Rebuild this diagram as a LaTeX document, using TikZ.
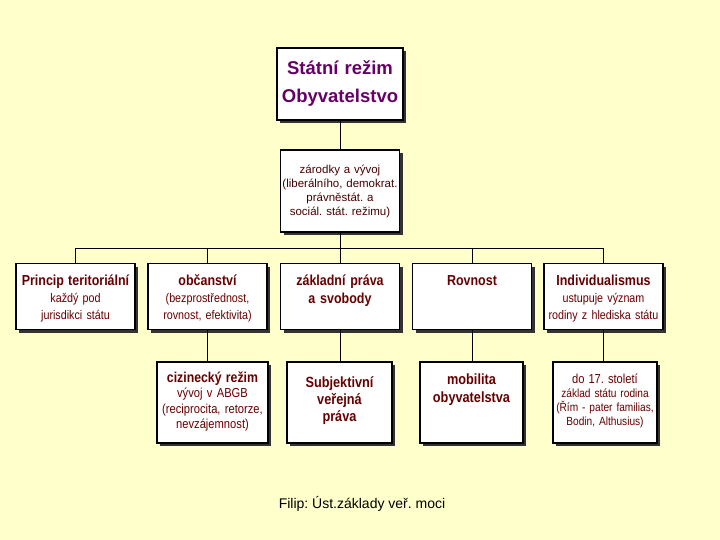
\documentclass[tikz,border=0pt]{standalone}
\usepackage{fontspec}
\setmainfont{Liberation Sans}
\newfontfamily\narrowfont{Liberation Sans}[FakeStretch=0.86]
\usetikzlibrary{shadows}
\definecolor{bgyellow}{RGB}{255,255,204}
\definecolor{titlepurple}{RGB}{102,0,102}
\definecolor{textred}{RGB}{102,0,0}
\definecolor{subred}{RGB}{70,0,0}
\newcommand{\head}[1]{{\bfseries\fontsize{14.5}{17}\selectfont #1}}
\frenchspacing

\begin{document}
\begin{tikzpicture}[x=1pt, y=-1pt,
    cell/.style={draw, line width=1.2pt, fill=white, inner sep=0pt,
      drop shadow={shadow xshift=3pt, shadow yshift=-3pt, fill=black!80, opacity=1}},
    row2 cell/.style={cell, minimum width=119pt, minimum height=66pt},
    celltext/.style={anchor=base, inner sep=0pt, align=center, text width=#1,
      text=textred, font=\narrowfont\fontsize{12.5}{17}\selectfont},
    celltext/.default=150pt,
    link/.style={line width=0.9pt}]

    \fill[bgyellow] (0,0) rectangle (720,540);
    \useasboundingbox (0,0) rectangle (720,540);

    % top
    \node[cell, minimum width=126pt, minimum height=72pt] (stat) at (340,84) {};
    \node[celltext, text=titlepurple, font=\bfseries\fontsize{18.5}{28}\selectfont] (stat t) at ([yshift=-27pt]stat.north) {Státní režim\\Obyvatelstvo};

    \node[cell, minimum width=119pt, minimum height=82pt] (zar) at (340,191) {};
    \node[celltext, text=subred, font=\fontsize{11.5}{14}\selectfont] (zar t) at ([yshift=-24pt]zar.north) {zárodky a vývoj\\(liberálního, demokrat.\\právněstát. a\\sociál. stát. režimu)};

    % second row
    \node[row2 cell] (prin) at (75.5,296.5) {};
    \node[row2 cell] (obc) at (207.5,296.5) {};
    \node[row2 cell] (zakl) at (340,296.5) {};
    \node[row2 cell] (rov) at (472,296.5) {};
    \node[row2 cell] (indiv) at (603.5,296.5) {};

    \node[celltext] (prin t) at ([yshift=-23pt]prin.north) {\head{Princip teritoriální}\\každý pod\\jurisdikci státu};
    \node[celltext] (obc t) at ([yshift=-23pt]obc.north) {\head{občanství}\\(bezprostřednost,\\rovnost, efektivita)};
    \node[celltext, font=\narrowfont\bfseries\fontsize{14.5}{18}\selectfont] (zakl t) at ([yshift=-23pt]zakl.north) {základní práva\\a svobody};
    \node[celltext] (rov t) at ([yshift=-23pt]rov.north) {\head{Rovnost}};
    \node[celltext] (indiv t) at ([yshift=-23pt]indiv.north) {\head{Individualismus}\\ustupuje význam\\rodiny z hlediska státu};

    % third row
    \node[cell, minimum width=111pt, minimum height=81pt] (ciz) at (212.5,402.5) {};
    \node[cell, minimum width=105pt, minimum height=81pt] (subj) at (339.5,402.5) {};
    \node[cell, minimum width=103pt, minimum height=81pt] (mob) at (471.5,402.5) {};
    \node[cell, minimum width=104pt, minimum height=81pt] (stol) at (605,402.5) {};

    \node[celltext, font=\narrowfont\fontsize{13}{15.5}\selectfont] (ciz t) at ([yshift=-21pt]ciz.north) {{\bfseries\fontsize{14.3}{15.5}\selectfont cizinecký režim}\\vývoj v ABGB\\(reciprocita, retorze,\\nevzájemnost)};
    \node[celltext, font=\narrowfont\bfseries\fontsize{14.8}{17}\selectfont] (subj t) at ([yshift=-26pt]subj.north) {Subjektivní\\veřejná\\práva};
    \node[celltext, font=\narrowfont\bfseries\fontsize{14.8}{18}\selectfont] (mob t) at ([yshift=-23pt]mob.north) {mobilita\\obyvatelstva};
    \node[celltext, font=\narrowfont\fontsize{11.8}{14}\selectfont] (stol t) at ([yshift=-22pt]stol.north) {{\fontsize{13}{14}\selectfont do 17. století}\\základ státu rodina\\(Řím - pater familias,\\Bodin, Althusius)};

    \node[font=\fontsize{14}{16}\selectfont] (foot) at (362,504) {Filip: Úst.základy veř. moci};

    % connectors
    \coordinate (bus) at (340,248);
    \draw[link] (stat) -- (zar);
    \draw[link] (zar) -- (bus);
    \draw[link] (bus -| prin) -- (bus -| indiv);
    \draw[link] (bus -| prin) -- (prin);
    \draw[link] (bus -| obc) -- (obc);
    \draw[link] (bus -| zakl) -- (zakl);
    \draw[link] (bus -| rov) -- (rov);
    \draw[link] (bus -| indiv) -- (indiv);

    \draw[link] (obc.south) -- (obc.south |- ciz.north);
    \draw[link] (zakl.south) -- (zakl.south |- subj.north);
    \draw[link] (rov.south) -- (rov.south |- mob.north);
    \draw[link] (indiv.south) -- (indiv.south |- stol.north);

\end{tikzpicture}
\end{document}
